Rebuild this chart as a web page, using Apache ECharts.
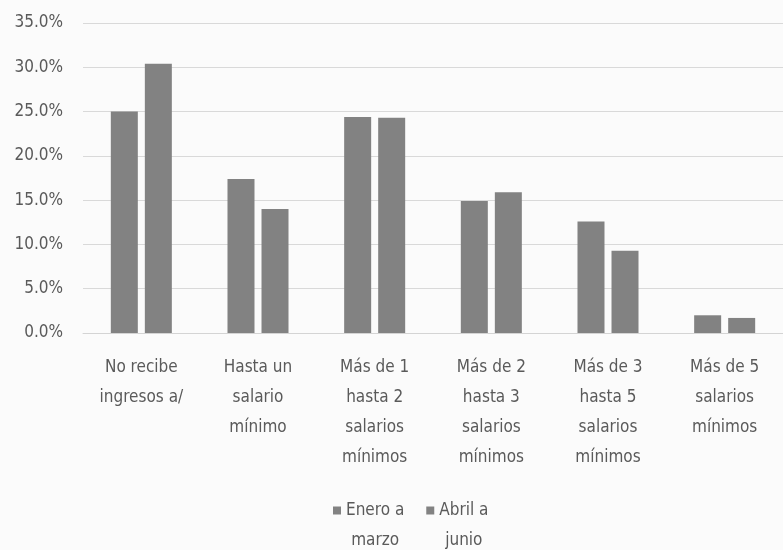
<!DOCTYPE html>
<html>
<head>
<meta charset="utf-8">
<script src="https://cdn.jsdelivr.net/npm/echarts@6/dist/echarts.min.js"></script>
<style>
html,body{margin:0;padding:0;background:#fbfbfb;}
#c{width:783px;height:550px;}
</style>
</head>
<body>
<div id="c"></div>
<script>
const categories = [
  'No recibe\ningresos a/',
  'Hasta un\nsalario\nmínimo',
  'Más de 1\nhasta 2\nsalarios\nmínimos',
  'Más de 2\nhasta 3\nsalarios\nmínimos',
  'Más de 3\nhasta 5\nsalarios\nmínimos',
  'Más de 5\nsalarios\nmínimos'
];
const seriesNames = ['Enero a marzo', 'Abril a junio'];
const eneroMarzo = [25.0, 17.4, 24.4, 14.9, 12.6, 2.0];
const abrilJunio = [30.4, 14.0, 24.3, 15.9, 9.3, 1.7];
const yMin = 0, yMax = 35, yStep = 5;

const FONT = '"Liberation Sans Narrow", "DejaVu Sans Condensed", "Open Sans", sans-serif';
const TXT = '#5a5a5a';
const chart = echarts.init(document.getElementById('c'), null, {renderer: 'canvas'});
chart.setOption({
  backgroundColor: '#fbfbfb',
  animation: false,
  textStyle: {fontFamily: FONT},
  grid: {left: 83, right: -15, top: 23, bottom: 217, containLabel: false},
  legend: {
    data: seriesNames,
    left: 328, top: 497,
    itemWidth: 8, itemHeight: 8, itemGap: 22,
    icon: 'rect',
    formatter: function (n) {
      const i = n.lastIndexOf(' ');
      return '{a|' + n.slice(0, i) + '}\n{a|' + n.slice(i + 1) + '}';
    },
    textStyle: {
      color: TXT, fontFamily: FONT, fontSize: 17, padding: [30, 0, 0, 0],
      rich: {a: {align: 'center', fontSize: 17, lineHeight: 30, color: TXT, fontFamily: FONT}}
    }
  },
  xAxis: {
    type: 'category',
    data: categories,
    axisLine: {show: true, lineStyle: {color: '#d4d4d4', width: 1}},
    axisTick: {show: false},
    axisLabel: {interval: 0, color: TXT, fontSize: 17, lineHeight: 30, margin: 20, fontFamily: FONT}
  },
  yAxis: {
    type: 'value',
    min: yMin, max: yMax, interval: yStep,
    axisLine: {show: false},
    axisTick: {show: false},
    splitLine: {lineStyle: {color: '#d9d9d9', width: 1}},
    axisLabel: {color: TXT, fontSize: 17, margin: 20, fontFamily: FONT,
      formatter: v => v.toFixed(1) + '%'}
  },
  series: [
    {name: seriesNames[0], type: 'bar', data: eneroMarzo, barWidth: 27, barGap: '26%',
     itemStyle: {color: '#828282'}},
    {name: seriesNames[1], type: 'bar', data: abrilJunio, barWidth: 27, barGap: '26%',
     itemStyle: {color: '#828282'}}
  ]
});
</script>
</body>
</html>
